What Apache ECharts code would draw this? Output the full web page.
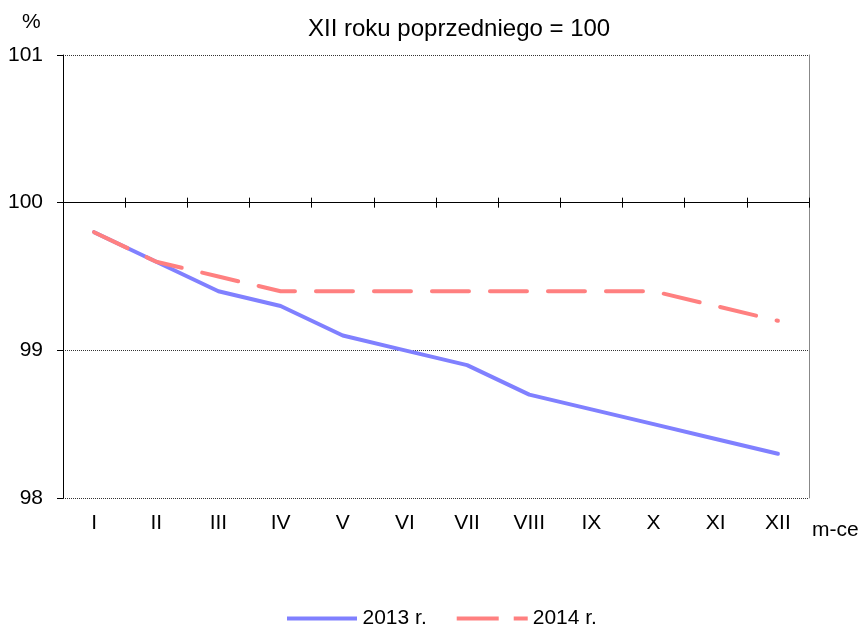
<!DOCTYPE html>
<html><head><meta charset="utf-8">
<script src="https://cdn.jsdelivr.net/npm/echarts@6/dist/echarts.min.js"></script>
<style>html,body{margin:0;padding:0;background:#fff}#c{width:865px;height:631px}</style>
</head><body><div id="c"></div>
<script>
const categories = ['I','II','III','IV','V','VI','VII','VIII','IX','X','XI','XII'];
const s2013 = [99.8,99.6,99.4,99.3,99.1,99.0,98.9,98.7,98.6,98.5,98.4,98.3];
const s2014 = [99.8,99.6,99.5,99.4,99.4,99.4,99.4,99.4,99.4,99.4,99.3,99.2];
const yTicks = [98,99,100,101];

const F = '"Liberation Sans", Arial, sans-serif';
const chart = echarts.init(document.getElementById('c'));
chart.setOption({
  animation:false,
  title:{text:'XII roku poprzedniego = 100', left:303, top:12, textStyle:{fontFamily:F, fontSize:24, fontWeight:'normal', color:'#000'}},
  graphic:[
    {type:'text', left:22, top:12, style:{text:'%', font:'21px '+F, fill:'#000'}},
    {type:'text', left:812, top:520, style:{text:'m-ce', font:'21px '+F, fill:'#000'}}
  ],
  legend:{bottom:-3, left:282, itemWidth:71, itemHeight:4, itemGap:30,
    textStyle:{fontFamily:F, fontSize:21, color:'#000'},
    data:[
      {name:'2013 r.', icon:'path://M0,0H70V4H0Z'},
      {name:'2014 r.', icon:'path://M0,0H42V4H0Z M57,0H71V4H57Z'}
    ]},
  grid:[{left:63, right:56, top:55, bottom:133}, {left:63, right:56, top:55, height:147.67}],
  xAxis:[
    {type:'category', gridIndex:0, data:categories, boundaryGap:true,
     axisLine:{show:false}, axisTick:{show:false},
     axisLabel:{fontFamily:F, fontSize:21, color:'#000', margin:15}},
    {type:'category', gridIndex:1, data:categories, boundaryGap:true, position:'bottom',
     axisLine:{show:true, lineStyle:{color:'#000', width:1}},
     axisTick:{show:true, length:5, lineStyle:{color:'#000'}}, axisLabel:{show:false}},
    {type:'category', gridIndex:1, data:categories, boundaryGap:true, position:'bottom',
     axisLine:{show:false},
     axisTick:{show:true, inside:true, length:5, lineStyle:{color:'#000'}}, axisLabel:{show:false}}
  ],
  yAxis:[
    {type:'value', gridIndex:0, min:98, max:101, interval:1,
     axisLine:{show:true, lineStyle:{color:'#000', width:1}},
     axisTick:{show:true, length:6, lineStyle:{color:'#000'}},
     axisLabel:{fontFamily:F, fontSize:21, color:'#000', margin:20,
       formatter:v=>yTicks.includes(v)?String(v):''},
     splitLine:{show:true, lineStyle:{color:'#333', width:1, type:[1,1]}}},
    {type:'value', gridIndex:0, min:98, max:101, interval:1, position:'right',
     axisLine:{show:true, lineStyle:{color:'#888', width:1}},
     axisTick:{show:false}, axisLabel:{show:false}, splitLine:{show:false}},
    {type:'value', gridIndex:1, show:false, min:0, max:1}
  ],
  series:[
    {name:'2013 r.', type:'line', xAxisIndex:0, yAxisIndex:0, data:s2013, symbol:'none',
     lineStyle:{color:'#8080FF', width:4, cap:'round', join:'round'}, itemStyle:{color:'#8080FF'}, z:3},
    {name:'2014 r.', type:'line', xAxisIndex:0, yAxisIndex:0, data:s2014, symbol:'none',
     lineStyle:{color:'#FF8080', width:4, type:[37,21], cap:'round', join:'round'}, itemStyle:{color:'#FF8080'}, z:4}
  ]
});
</script></body></html>
